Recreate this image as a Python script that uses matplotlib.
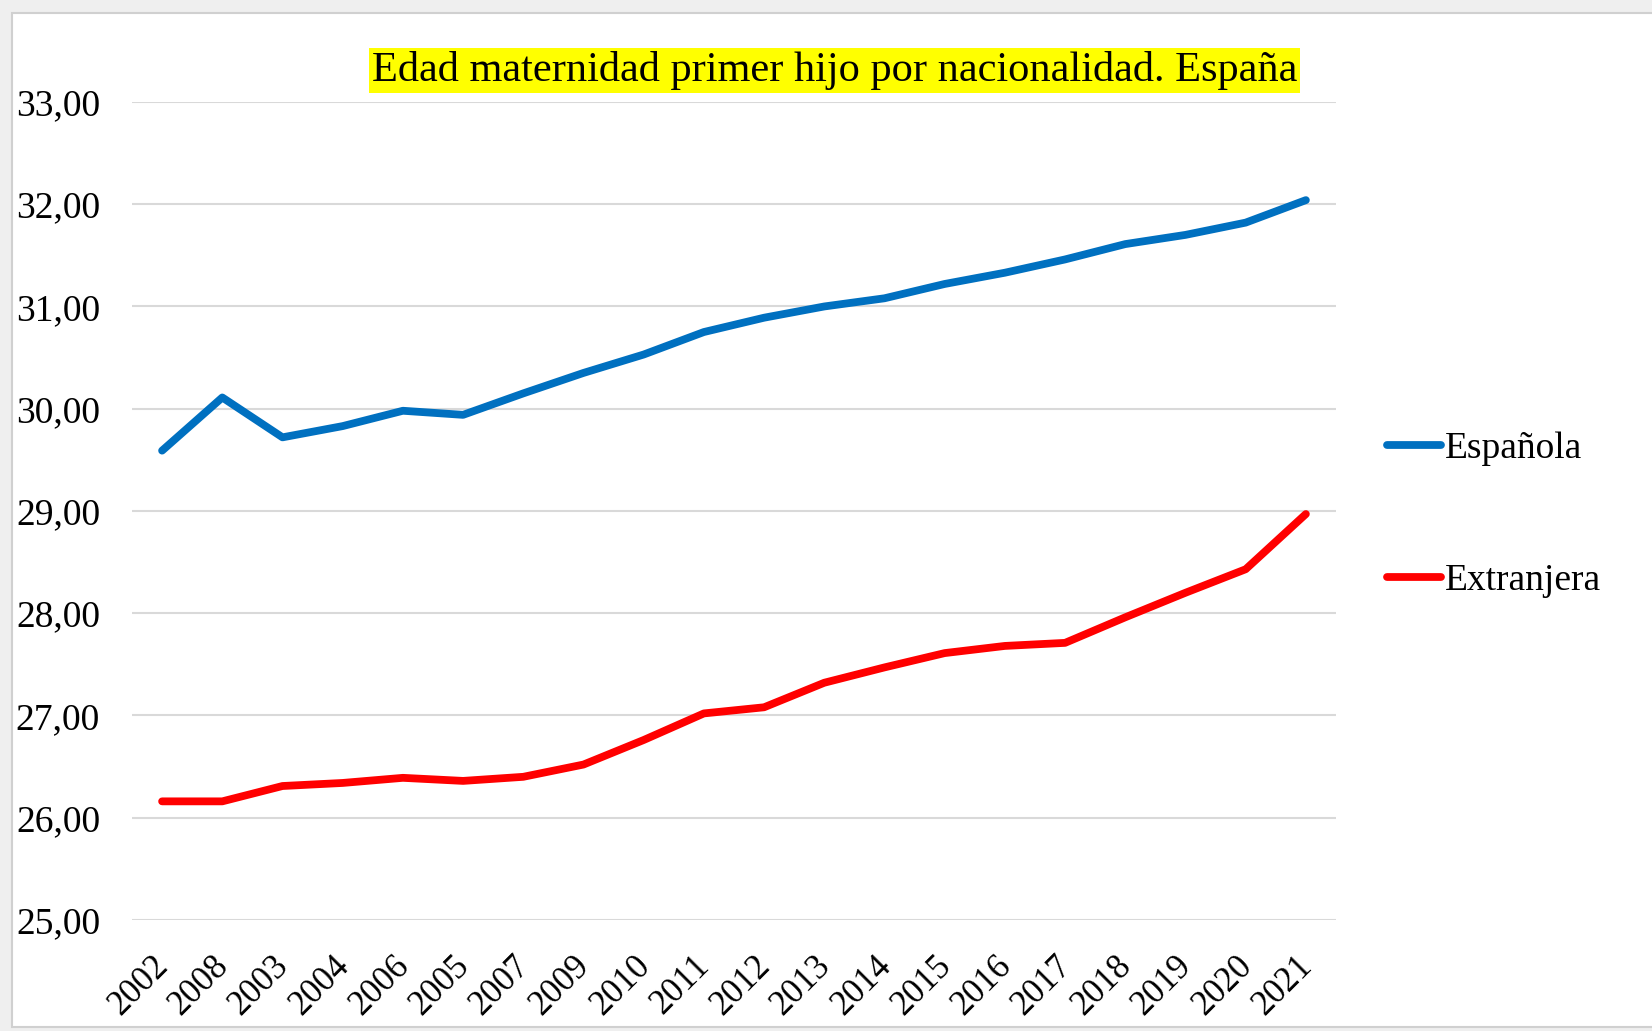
import matplotlib
matplotlib.use("Agg")
import matplotlib.pyplot as plt
from matplotlib.patches import Rectangle
from matplotlib.transforms import ScaledTranslation

plt.rcParams['font.family'] = ['Liberation Serif', 'DejaVu Serif']

# data (year order as in the original)
years = ['2002', '2008', '2003', '2004', '2006', '2005', '2007', '2009', '2010', '2011',
         '2012', '2013', '2014', '2015', '2016', '2017', '2018', '2019', '2020', '2021']
espanola = [29.59, 30.11, 29.72, 29.83, 29.98, 29.94, 30.15, 30.35, 30.53, 30.75,
            30.89, 31.00, 31.08, 31.22, 31.33, 31.46, 31.61, 31.70, 31.82, 32.04]
extranjera = [26.16, 26.16, 26.31, 26.34, 26.39, 26.36, 26.40, 26.52, 26.76, 27.02,
              27.08, 27.32, 27.47, 27.61, 27.68, 27.71, 27.96, 28.20, 28.43, 28.97]
yticks = [25, 26, 27, 28, 29, 30, 31, 32, 33]

fig = plt.figure(figsize=(16.52, 10.31), dpi=100)
fig.patch.set_facecolor('#efefef')
fig.patches.append(Rectangle((12 / 1652, 4 / 1031), 1.0, 1 - 17 / 1031,
                             transform=fig.transFigure, facecolor='white',
                             edgecolor='#d0d0d0', linewidth=1.5, zorder=-10))

ax = fig.add_axes([0.0799, 0.1077, 0.7288, 0.7934])
ax.set_facecolor('none')

x = list(range(len(years)))
ax.plot(x, espanola, color='#0070C0', lw=5.6, solid_capstyle='round', label='Española')
ax.plot(x, extranjera, color='#FF0000', lw=5.6, solid_capstyle='round', label='Extranjera')

ax.set_xlim(-0.5, len(years) - 0.5)
ax.set_ylim(25, 33)
ax.set_yticks(yticks)
ax.set_yticklabels([f"{v:.2f}".replace('.', ',') for v in yticks], fontsize=27)
ax.set_xticks(x)
ax.set_xticklabels(years, fontsize=25, rotation=45, ha='center', va='center',
                   rotation_mode='anchor')
ax.tick_params(axis='y', length=0, pad=23)
ax.tick_params(axis='x', length=0, pad=47)
# excel-style placement: label centre sits below and left of its category
shift = ScaledTranslation(-0.23, 0, fig.dpi_scale_trans)
for lab in ax.get_xticklabels():
    lab.set_transform(lab.get_transform() + shift)
ax.grid(axis='y', color='#d9d9d9', lw=1.5)
ax.set_axisbelow(True)
for s in ax.spines.values():
    s.set_visible(False)

fig.text(0.505, 0.932, 'Edad maternidad primer hijo por nacionalidad. España',
         fontsize=30.5, ha='center', va='center',
         bbox=dict(facecolor='#FFFF00', edgecolor='none', pad=2))

ax.legend(loc='center left', bbox_to_anchor=(0.819, 0.501), bbox_transform=fig.transFigure,
          frameon=False, fontsize=27, handlelength=1.45, handletextpad=0.1,
          labelspacing=2.6)

fig.savefig('out.png', dpi=100, facecolor=fig.get_facecolor())
